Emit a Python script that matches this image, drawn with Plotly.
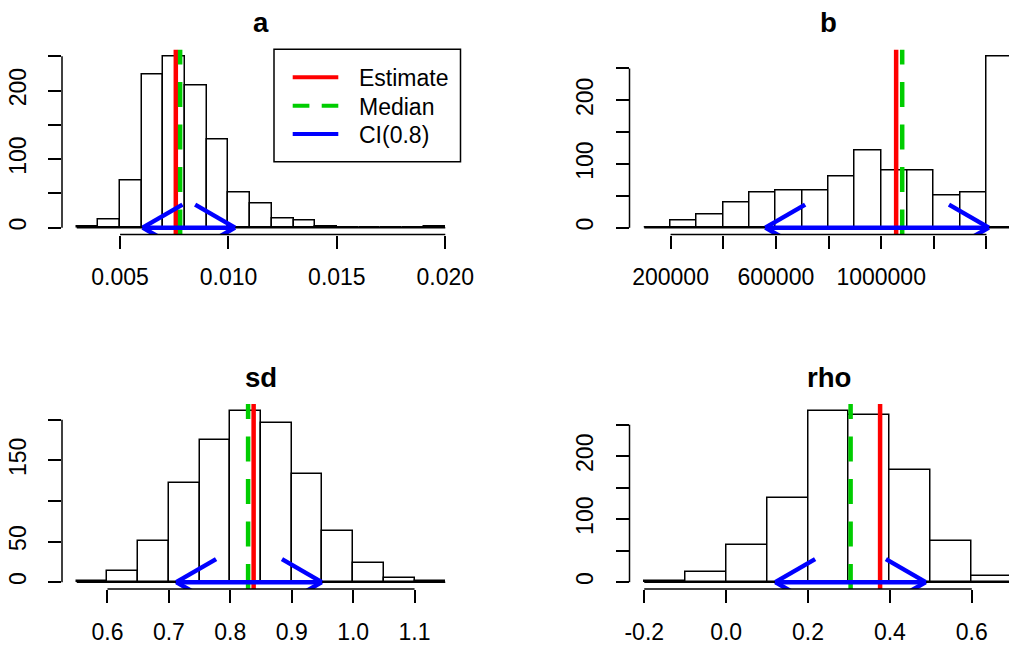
import math
import plotly.graph_objects as go

# ---------------- data ----------------
a_breaks = [0.003, 0.004, 0.005, 0.006, 0.007, 0.008, 0.009, 0.010, 0.011,
            0.012, 0.013, 0.014, 0.015, 0.016, 0.017, 0.018, 0.019, 0.020]
a_counts = [1, 12, 69, 223, 250, 207, 128, 51, 35, 13, 11, 2, 0, 0, 0, 0, 1]
a_estimate = 0.00757
a_median = 0.00777
a_ci = [0.00604, 0.01030]
a_xticks = [0.005, 0.010, 0.015, 0.020]
a_xlabels = ["0.005", "0.010", "0.015", "0.020"]
a_yticks = [0, 50, 100, 150, 200, 250]
a_ylabels = ["0", "", "100", "", "200", ""]

b_breaks = [100000, 200000, 300000, 400000, 500000, 600000, 700000, 800000,
            900000, 1000000, 1100000, 1200000, 1300000, 1400000, 1500000]
b_counts = [1, 11, 20, 40, 55, 59, 58, 80, 121, 89, 90, 51, 55, 269]
b_estimate = 1057000
b_median = 1080000
b_ci = [560000, 1409000]
b_xticks = [200000, 400000, 600000, 800000, 1000000, 1200000, 1400000]
b_xlabels = ["200000", "", "600000", "", "1000000", "", ""]
b_yticks = [0, 50, 100, 150, 200, 250]
b_ylabels = ["0", "", "100", "", "200", ""]

sd_breaks = [0.55, 0.60, 0.65, 0.70, 0.75, 0.80, 0.85, 0.90, 0.95, 1.00,
             1.05, 1.10, 1.15]
sd_counts = [2, 14, 51, 122, 175, 211, 196, 133, 63, 23, 5, 2]
sd_estimate = 0.838
sd_median = 0.829
sd_ci = [0.712, 0.949]
sd_xticks = [0.6, 0.7, 0.8, 0.9, 1.0, 1.1]
sd_xlabels = ["0.6", "0.7", "0.8", "0.9", "1.0", "1.1"]
sd_yticks = [0, 50, 100, 150, 200]
sd_ylabels = ["0", "50", "", "150", ""]

rho_breaks = [-0.2, -0.1, 0.0, 0.1, 0.2, 0.3, 0.4, 0.5, 0.6, 0.7]
rho_counts = [2, 16, 59, 133, 272, 266, 178, 66, 9]
rho_estimate = 0.376
rho_median = 0.304
rho_ci = [0.120, 0.4875]
rho_xticks = [-0.2, 0.0, 0.2, 0.4, 0.6]
rho_xlabels = ["-0.2", "0.0", "0.2", "0.4", "0.6"]
rho_yticks = [0, 50, 100, 150, 200, 250]
rho_ylabels = ["0", "", "100", "", "200", ""]

titles = ["a", "b", "sd", "rho"]
legend_names = ["Estimate", "Median", "CI(0.8)"]

# ---------------- styling / geometry ----------------
W, H = 1009, 646
FONT = "Liberation Sans, Arial, sans-serif"
FS = 23
RED, GREEN, BLUE = "#FF0000", "#00CD00", "#0000FF"
LW = 4.5
DASH = "25px,17.5px"
# plot regions in pixels: left, right (full), top, bottom
regions = [(62, 460, 49.5, 234.5), (629.5, 1027.5, 49.5, 234.5),
           (62, 460, 404, 589), (629.5, 1027.5, 404, 589)]

panels = [
    (a_breaks, a_counts, a_estimate, a_median, a_ci, a_xticks, a_xlabels, a_yticks, a_ylabels),
    (b_breaks, b_counts, b_estimate, b_median, b_ci, b_xticks, b_xlabels, b_yticks, b_ylabels),
    (sd_breaks, sd_counts, sd_estimate, sd_median, sd_ci, sd_xticks, sd_xlabels, sd_yticks, sd_ylabels),
    (rho_breaks, rho_counts, rho_estimate, rho_median, rho_ci, rho_xticks, rho_xlabels, rho_yticks, rho_ylabels),
]

fig = go.Figure()
layout = dict(width=W, height=H, margin=dict(l=0, r=0, t=0, b=0, pad=0),
              paper_bgcolor="white", plot_bgcolor="white", showlegend=False,
              barmode="overlay", bargap=0,
              font=dict(family=FONT, size=FS, color="black"))
shapes, annotations = [], []

for i, (brk, cnt, est, med, ci, xt, xl, yt, yl) in enumerate(panels):
    sfx = "" if i == 0 else str(i + 1)
    xa, ya = "x" + sfx, "y" + sfx
    left, right, top, bottom = regions[i]
    # R-style 4% extended ranges
    lo, hi = brk[0], brk[-1]
    ext = 0.04 * (hi - lo)
    x0, x1 = lo - ext, hi + ext
    vis_right = min(right, W)
    x1v = x0 + (x1 - x0) * (vis_right - left) / (right - left)
    ymax = max(cnt)
    y0, y1 = -0.04 * ymax, 1.04 * ymax
    pxx = (right - left) / (x1 - x0)
    pxy = (bottom - top) / (y1 - y0)

    centers = [(brk[k] + brk[k + 1]) / 2 for k in range(len(cnt))]
    widths = [brk[k + 1] - brk[k] for k in range(len(cnt))]

    # baseline (zero-height bins)
    fig.add_trace(go.Scatter(x=[lo, hi], y=[0, 0], mode="lines", xaxis=xa, yaxis=ya,
                             line=dict(color="black", width=1.5), hoverinfo="skip"))
    fig.add_trace(go.Bar(x=centers, y=cnt, width=widths, xaxis=xa, yaxis=ya,
                         marker=dict(color="white", line=dict(color="black", width=1.5))))
    fig.add_trace(go.Scatter(x=[est, est], y=[y0, y1], mode="lines", xaxis=xa, yaxis=ya,
                             line=dict(color=RED, width=LW), name=legend_names[0]))
    fig.add_trace(go.Scatter(x=[med, med], y=[y0, y1], mode="lines", xaxis=xa, yaxis=ya,
                             line=dict(color=GREEN, width=LW, dash=DASH),
                             name=legend_names[1]))
    fig.add_trace(go.Scatter(x=[ci[0], ci[1]], y=[0, 0], mode="lines", xaxis=xa, yaxis=ya,
                             line=dict(color=BLUE, width=LW), name=legend_names[2]))
    # arrow heads (R arrows: length ~46px, angle 30 deg)
    dx = 46 * math.cos(math.radians(30)) / pxx
    dy = 46 * math.sin(math.radians(30)) / pxy
    hx = [ci[0], ci[0] + dx, None, ci[0], ci[0] + dx, None,
          ci[1], ci[1] - dx, None, ci[1], ci[1] - dx]
    hy = [0, dy, None, 0, -dy, None, 0, dy, None, 0, -dy]
    fig.add_trace(go.Scatter(x=hx, y=hy, mode="lines", xaxis=xa, yaxis=ya,
                             line=dict(color=BLUE, width=LW), hoverinfo="skip"))

    xkey = "xaxis" + sfx
    ykey = "yaxis" + sfx
    layout[xkey] = dict(domain=[left / W, vis_right / W], range=[x0, x1v], anchor=ya,
                        tickvals=xt, ticktext=xl, ticks="outside", ticklen=13,
                        tickwidth=1.5, tickcolor="black", showgrid=False,
                        zeroline=False, showline=False, ticklabelstandoff=9,
                        automargin=False,
                        tickfont=dict(family=FONT, size=FS, color="black"))
    layout[ykey] = dict(domain=[1 - bottom / H, 1 - top / H], range=[y0, y1], anchor=xa,
                        tickvals=yt, ticktext=yl, ticks="outside", ticklen=13,
                        tickwidth=1.5, tickcolor="black", showgrid=False,
                        zeroline=False, showline=False, tickangle=-90,
                        ticklabelstandoff=13, automargin=False,
                        tickfont=dict(family=FONT, size=FS, color="black"))
    # R-style axis lines spanning first..last tick
    shapes.append(dict(type="line", xref=xa, yref=ya + " domain", x0=xt[0], x1=xt[-1],
                       y0=0, y1=0, line=dict(color="black", width=1.5)))
    shapes.append(dict(type="line", xref=xa + " domain", yref=ya, x0=0, x1=0,
                       y0=yt[0], y1=yt[-1], line=dict(color="black", width=1.5)))
    # title
    annotations.append(dict(text="<b>" + titles[i] + "</b>", xref="paper", yref="paper",
                            x=(left + right) / 2 / W, y=1 - (top - 27) / H,
                            xanchor="center", yanchor="middle", showarrow=False,
                            font=dict(family=FONT, size=27.6, color="black")))

# legend (panel a, top-right), drawn R-style
LEG_L, LEG_R, LEG_T, LEG_B = 274, 460.5, 49.2, 161.8
shapes.append(dict(type="rect", xref="paper", yref="paper",
                   x0=LEG_L / W, x1=LEG_R / W, y0=1 - LEG_B / H, y1=1 - LEG_T / H,
                   line=dict(color="black", width=1.5), fillcolor="white", layer="above"))
leg_colors = [RED, GREEN, BLUE]
leg_dash = ["solid", "16.7px,12.3px", "solid"]
for k, name in enumerate(legend_names):
    yc = 77.3 + 28.4 * k
    shapes.append(dict(type="line", xref="paper", yref="paper",
                       x0=292.7 / W, x1=338.3 / W, y0=1 - yc / H, y1=1 - yc / H,
                       line=dict(color=leg_colors[k], width=4, dash=leg_dash[k]),
                       layer="above"))
    annotations.append(dict(text=name, xref="paper", yref="paper",
                            x=357 / W, y=1 - (yc + 0.8) / H, xanchor="left",
                            yanchor="middle", showarrow=False,
                            font=dict(family=FONT, size=FS, color="black")))

layout["shapes"] = shapes
layout["annotations"] = annotations
fig.update_layout(**layout)
fig.write_html("out.html")
